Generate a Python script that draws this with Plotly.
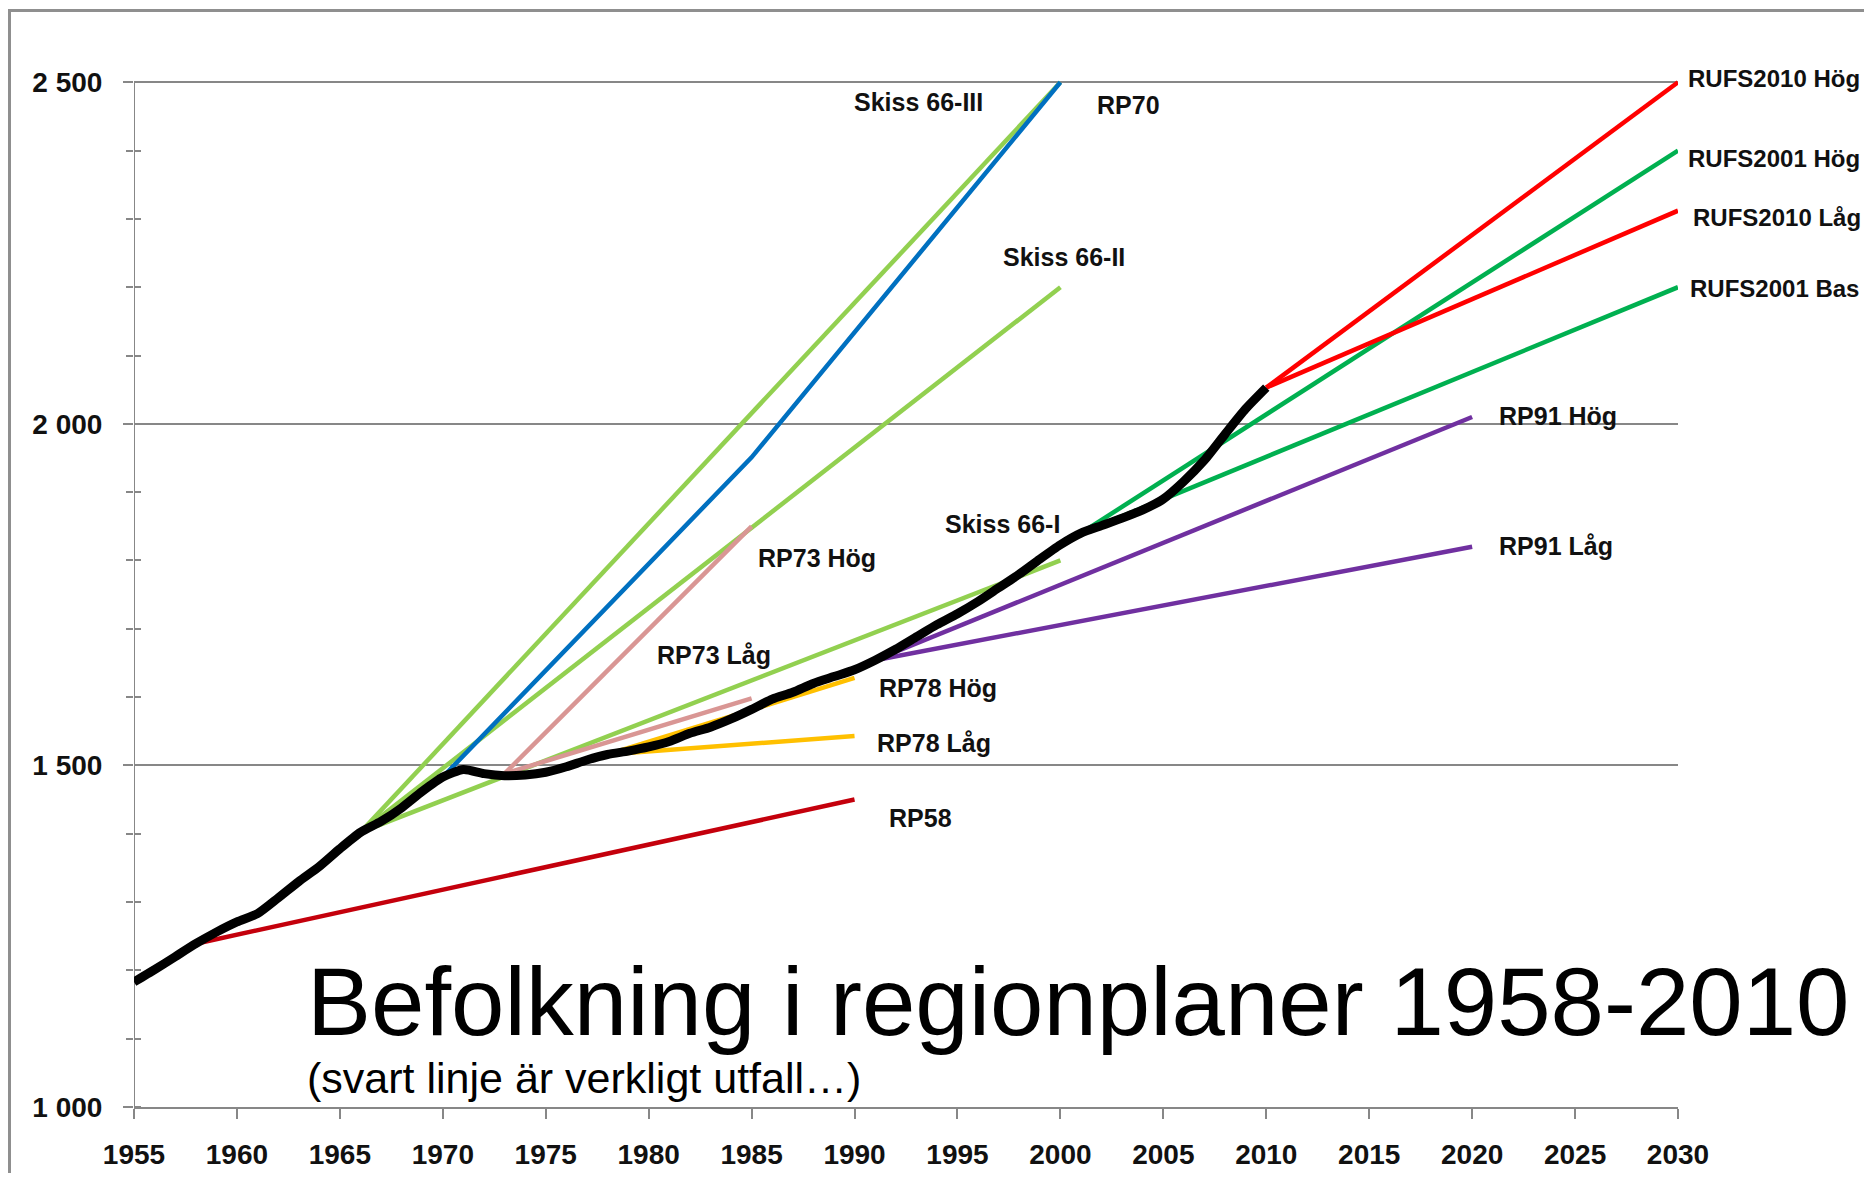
import plotly.graph_objects as go

# ---------------- data ----------------
actual_years = list(range(1955, 2011))
actual_pop = [1183, 1201, 1220, 1239, 1256, 1271, 1283, 1306, 1330, 1352,
              1378, 1402, 1418, 1438, 1462, 1483, 1494, 1488, 1485, 1486,
              1490, 1498, 1508, 1516, 1521, 1527, 1535, 1547, 1556, 1568,
              1582, 1597, 1607, 1620, 1630, 1640, 1654, 1670, 1688, 1706,
              1722, 1740, 1760, 1780, 1802, 1823, 1840, 1851, 1862, 1874,
              1890, 1916, 1947, 1985, 2022, 2053]

rp58_years = [1958, 1990]
rp58_pop = [1239, 1450]

skiss66_years = [1966, 2000]
skiss66_I_pop = [1402, 1800]
skiss66_II_pop = [1402, 2200]
skiss66_III_pop = [1402, 2500]

rp70_years = [1970, 1985, 2000]
rp70_pop = [1483, 1951, 2500]

rp73_years = [1973, 1985]
rp73_hog_pop = [1488, 1850]
rp73_lag_pop = [1488, 1598]

rp78_years = [1978, 1990]
rp78_hog_pop = [1516, 1628]
rp78_lag_pop = [1516, 1543]

rp91_years = [1991, 2020]
rp91_hog_pop = [1654, 2010]
rp91_lag_pop = [1654, 1820]

rufs2001_years = [2001, 2030]
rufs2001_hog_pop = [1840, 2400]
rufs2001_bas_pop = [1840, 2200]

rufs2010_years = [2010, 2030]
rufs2010_hog_pop = [2053, 2500]
rufs2010_lag_pop = [2053, 2312]

x_ticks = list(range(1955, 2031, 5))
y_ticks = [1000, 1500, 2000, 2500]
y_ticktext = ["1 000", "1 500", "2 000", "2 500"]

title_text = "Befolkning i regionplaner 1958-2010"
subtitle_text = "(svart linje är verkligt utfall…)"

# ---------------- styles ----------------
C_LGREEN = "#92D050"
C_BLUE = "#0070C0"
C_PINK = "#D99694"
C_ORANGE = "#FFC000"
C_DRED = "#C4000C"
C_PURPLE = "#7030A0"
C_GREEN = "#00B050"
C_RED = "#FF0000"
GRID = "#878787"

series = [
    ("RP58", rp58_years, rp58_pop, C_DRED),
    ("Skiss 66-III", skiss66_years, skiss66_III_pop, C_LGREEN),
    ("Skiss 66-II", skiss66_years, skiss66_II_pop, C_LGREEN),
    ("Skiss 66-I", skiss66_years, skiss66_I_pop, C_LGREEN),
    ("RP70", rp70_years, rp70_pop, C_BLUE),
    ("RP73 Hög", rp73_years, rp73_hog_pop, C_PINK),
    ("RP73 Låg", rp73_years, rp73_lag_pop, C_PINK),
    ("RP78 Hög", rp78_years, rp78_hog_pop, C_ORANGE),
    ("RP78 Låg", rp78_years, rp78_lag_pop, C_ORANGE),
    ("RP91 Hög", rp91_years, rp91_hog_pop, C_PURPLE),
    ("RP91 Låg", rp91_years, rp91_lag_pop, C_PURPLE),
    ("RUFS2001 Hög", rufs2001_years, rufs2001_hog_pop, C_GREEN),
    ("RUFS2001 Bas", rufs2001_years, rufs2001_bas_pop, C_GREEN),
    ("RUFS2010 Hög", rufs2010_years, rufs2010_hog_pop, C_RED),
    ("RUFS2010 Låg", rufs2010_years, rufs2010_lag_pop, C_RED),
]

# label placement (anchor year, vertical centre value, pixel shift, font size) - layout only
label_pos = {
    "Skiss 66-III": (1989.9, 2471, 0, 25),
    "RP70": (2001.7, 2467, 0, 25),
    "Skiss 66-II": (1997.1, 2244, 0, 25),
    "Skiss 66-I": (1994.3, 1853, 0, 25),
    "RP73 Hög": (1985.2, 1803, 0, 25),
    "RP73 Låg": (1980.3, 1661, 0, 25),
    "RP78 Hög": (1991.1, 1613, 0, 25),
    "RP78 Låg": (1991.0, 1533, 0, 25),
    "RP58": (1991.6, 1423, 0, 25),
    "RP91 Hög": (2021.2, 2011, 0, 25),
    "RP91 Låg": (2021.2, 1821, 0, 25),
    "RUFS2010 Hög": (2030, 2506, 8, 24),
    "RUFS2001 Hög": (2030, 2389, 8, 24),
    "RUFS2010 Låg": (2030, 2302, 13, 24),
    "RUFS2001 Bas": (2030, 2198, 10, 24),
}

# the page body has an 8 px margin on every side, so the figure is 16 px smaller
W, H = 1856, 1165
ML, MR, MT, MB = 126, 186, 64, 66
X_RANGE = [1955, 2030]
Y_RANGE = [1000, 2515]

fig = go.Figure()

for name, xs, ys, col in series:
    fig.add_trace(go.Scatter(x=xs, y=ys, mode="lines", name=name,
                             line=dict(color=col, width=4.5),
                             showlegend=False, hoverinfo="skip"))

fig.add_trace(go.Scatter(x=actual_years, y=actual_pop, mode="lines", name="Utfall",
                         line=dict(color="#000000", width=9, shape="spline", smoothing=0.6),
                         showlegend=False, hoverinfo="skip"))

# dummy trace for the overlay axis (inside half of the minor ticks)
fig.add_trace(go.Scatter(x=[1955], y=[1000], yaxis="y2", mode="lines",
                         showlegend=False, hoverinfo="skip", line=dict(width=0)))

for name, (lx, ly, sh, fs) in label_pos.items():
    fig.add_annotation(x=lx, y=ly, xref="x", yref="y", text=name, showarrow=False,
                       xanchor="left", yanchor="middle", xshift=sh,
                       font=dict(family="Liberation Sans, Arial", size=fs,
                                 color="#111111", weight="bold"))

# title and subtitle
fig.add_annotation(x=1963.3, y=1154, xref="x", yref="y", text=title_text, showarrow=False,
                   xanchor="left", yanchor="middle",
                   font=dict(family="Liberation Sans, Arial", size=96, color="#000000"))
fig.add_annotation(x=1963.3, y=1042, xref="x", yref="y", text=subtitle_text, showarrow=False,
                   xanchor="left", yanchor="middle",
                   font=dict(family="Liberation Sans, Arial", size=43, color="#000000"))

# frame around the picture (top and left edges)
pw = W - ML - MR
ph = H - MT - MB


def px2paper(px, py):
    return (px - ML) / pw, (H - MB - py) / ph


fx0, fy0 = px2paper(1.5, 2.5)
fx1, fyb = px2paper(W, H + 20)
fig.add_shape(type="path", xref="paper", yref="paper",
              path=f"M {fx0},{fyb} L {fx0},{fy0} L {fx1},{fy0}",
              line=dict(color="#8f8f8f", width=3))

# y axis line only from 1000 to 2500
fig.add_shape(type="line", xref="x", yref="y", x0=X_RANGE[0], x1=X_RANGE[0],
              y0=y_ticks[0], y1=y_ticks[-1], line=dict(color=GRID, width=2), layer="below")

fig.update_layout(
    width=W, height=H,
    margin=dict(l=ML, r=MR, t=MT, b=MB, autoexpand=False),
    paper_bgcolor="white", plot_bgcolor="white",
    xaxis=dict(range=X_RANGE, tickvals=x_ticks, ticktext=[str(v) for v in x_ticks],
               showgrid=False, zeroline=False, showline=True, linecolor=GRID, linewidth=2,
               ticks="outside", ticklen=10, tickwidth=2, tickcolor=GRID,
               ticklabelstandoff=11,
               tickfont=dict(family="Liberation Sans, Arial", size=28, color="#111111",
                             weight="bold")),
    yaxis=dict(range=Y_RANGE, tickvals=y_ticks, ticktext=y_ticktext,
               showgrid=True, gridcolor=GRID, gridwidth=2, zeroline=False,
               showline=False,
               ticks="outside", ticklen=10, tickwidth=2, tickcolor=GRID,
               ticklabelstandoff=15,
               minor=dict(dtick=100, ticks="outside", ticklen=7, tickwidth=1.5, tickcolor=GRID,
                          showgrid=False),
               tickfont=dict(family="Liberation Sans, Arial", size=28, color="#111111",
                             weight="bold")),
    yaxis2=dict(range=Y_RANGE, overlaying="y", anchor="x", side="left", showgrid=False,
                zeroline=False, showline=False, showticklabels=False,
                tickvals=y_ticks, ticks="",
                minor=dict(dtick=100, ticks="inside", ticklen=7, tickwidth=1.5, tickcolor=GRID,
                           showgrid=False)),
)

fig.write_html("out.html")
